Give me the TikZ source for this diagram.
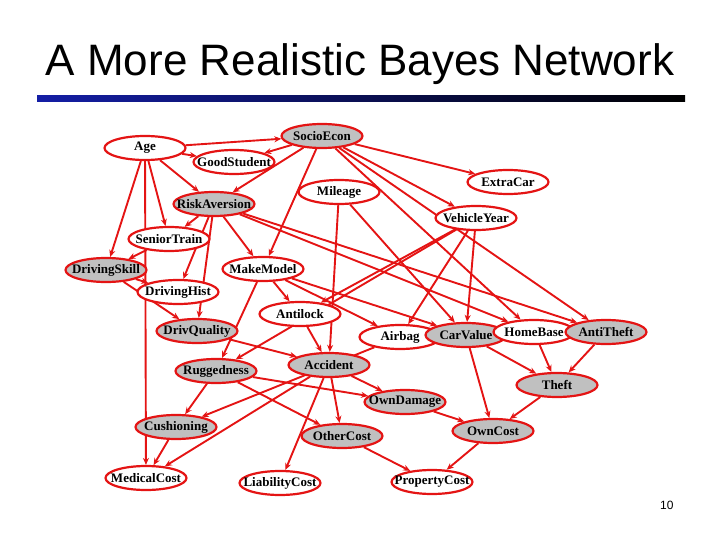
\documentclass[tikz,border=0pt]{standalone}
\usepackage{fontspec}
\setmainfont{Liberation Serif}
\newfontfamily\slidefont{Liberation Sans}
\usetikzlibrary{shapes.geometric, backgrounds, arrows.meta}
\definecolor{netred}{RGB}{228,20,20}
\definecolor{netgray}{RGB}{192,192,192}
\definecolor{barblue}{RGB}{20,30,165}
\tikzset{
  var/.style={ellipse, draw=netred, line width=2.2pt, fill=white,
    minimum width=81pt, minimum height=24pt, inner xsep=-9pt, inner ysep=0pt,
    font=\bfseries\fontsize{13}{15}\selectfont},
  hidden/.style={var, fill=netgray},
  edge/.style={draw=netred, line width=1.9pt, -{Stealth[length=7pt,width=6pt]}}
}

\begin{document}
\begin{tikzpicture}[x=1pt, y=-1pt]
  \useasboundingbox (0,0) rectangle (720,540);
  \node[anchor=base, font=\slidefont\fontsize{44}{50}\selectfont] (title) at (360,76) {A More Realistic Bayes Network};
  \shade[left color=barblue, middle color=barblue!75!black, right color=black] (37,96) rectangle (685,102);
  \node[anchor=base east, font=\slidefont\fontsize{12}{14}\selectfont] (pagenum) at (677,509) {10};

  % variables
  \node[hidden] (socio) at (322,136) {SocioEcon};
  \node[var] (age) at (145,148) {Age};
  \node[var] (good) at (234,162) {GoodStudent};
  \node[var] (extra) at (508,182) {ExtraCar};
  \node[var] (mileage) at (339,192) {Mileage};
  \node[hidden] (risk) at (214,204) {RiskAversion};
  \node[var] (year) at (476,218) {VehicleYear};
  \node[var] (senior) at (169,239) {SeniorTrain};
  \node[hidden] (skill) at (106,270) {DrivingSkill};
  \node[var] (make) at (263,269) {MakeModel};
  \node[var] (hist) at (178,292) {DrivingHist};
  \node[var] (antilock) at (300,314) {Antilock};
  \node[hidden] (quality) at (197,331) {DrivQuality};
  \node[var] (airbag) at (400,337) {Airbag};
  \node[hidden] (value) at (466,335) {CarValue};
  \node[var] (home) at (534,332) {HomeBase};
  \node[hidden] (antitheft) at (606,332) {AntiTheft};
  \node[hidden] (accident) at (329,365) {Accident};
  \node[hidden] (rugged) at (216,371) {Ruggedness};
  \node[hidden] (theft) at (557,385) {Theft};
  \node[hidden] (damage) at (405,402) {OwnDamage};
  \node[hidden] (cushion) at (176,427) {Cushioning};
  \node[hidden] (other) at (342,436) {OtherCost};
  \node[hidden] (own) at (493,431) {OwnCost};
  \node[var] (medical) at (146,478) {MedicalCost};
  \node[var] (liability) at (280,483) {LiabilityCost};
  \node[var] (property) at (432,482) {PropertyCost};

  % dependencies
  \begin{scope}[on background layer]
    \foreach \a/\b in {age/good, socio/good, age/socio, age/risk, socio/risk,
        socio/year, socio/make, socio/home, socio/antitheft, socio/extra,
        risk/make, risk/home, risk/antitheft, age/senior, risk/senior,
        age/skill, senior/skill, risk/hist, skill/hist, risk/quality,
        skill/quality, quality/accident, mileage/accident, antilock/accident,
        mileage/value, year/value, year/rugged, year/antilock, year/airbag,
        make/rugged, make/antilock, make/airbag, make/value,
        accident/damage, rugged/damage, accident/other, rugged/other,
        accident/medical, age/medical, cushion/medical, rugged/cushion,
        airbag/cushion, accident/liability, value/theft, home/theft,
        antitheft/theft, value/own, theft/own, damage/own,
        own/property, other/property}
      \draw[edge] (\a) -- (\b);
  \end{scope}
\end{tikzpicture}
\end{document}
